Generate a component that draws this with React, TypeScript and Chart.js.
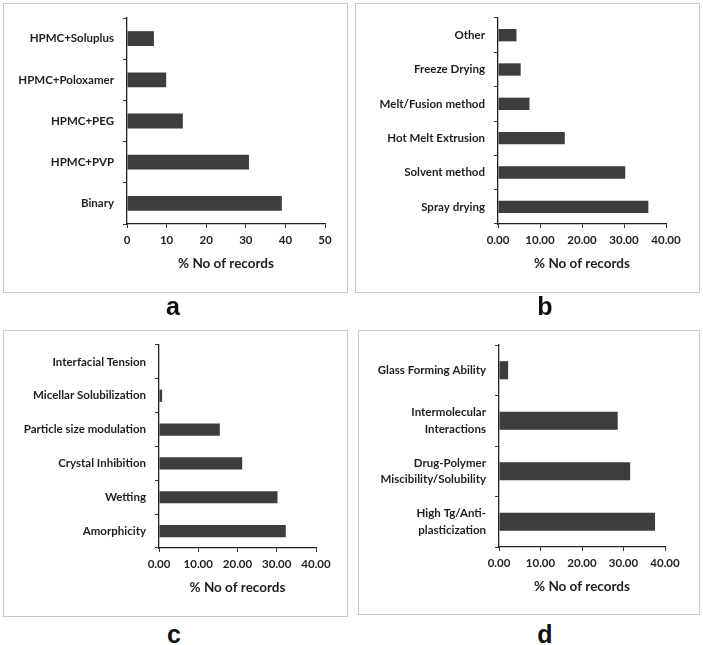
import React, { useEffect, useRef } from "react";
import { Chart, registerables } from "chart.js";

Chart.register(...registerables);

// ---- data (top-to-bottom order as displayed) ----
const catsA = ["HPMC+Soluplus", "HPMC+Poloxamer", "HPMC+PEG", "HPMC+PVP", "Binary"];
const valsA = [6.8, 9.9, 14.1, 30.8, 39.1];

const catsB = ["Other", "Freeze Drying", "Melt/Fusion method", "Hot Melt Extrusion", "Solvent method", "Spray drying"];
const valsB = [4.4, 5.4, 7.5, 15.9, 30.3, 35.8];

const catsC = ["Interfacial Tension", "Micellar Solubilization", "Particle size modulation", "Crystal Inhibition", "Wetting", "Amorphicity"];
const valsC = [0, 0.8, 15.5, 21.2, 30.2, 32.3];

const catsD = [
  ["Glass Forming Ability"],
  ["Intermolecular", "Interactions"],
  ["Drug-Polymer", "Miscibility/Solubility"],
  ["High Tg/Anti-", "plasticization"],
];
const valsD = [2.2, 28.6, 31.6, 37.6];

const axisTitle = "% No of records";
const panelLetters = ["a", "b", "c", "d"];

// ---- layout (page pixels) ----
type Panel = {
  labels: any[];
  values: number[];
  max: number;
  decimals: number;
  box: { x: number; y: number; w: number; h: number };
  area: { left: number; right: number; top: number; bottom: number };
  titleY: number;
  letter: string;
  letterX: number;
  letterY: number;
  labelLineHeight: number;
};

const panels: Panel[] = [
  {
    labels: catsA, values: valsA, max: 50, decimals: 0,
    box: { x: 3, y: 3, w: 345, h: 290 },
    area: { left: 127, right: 325, top: 18, bottom: 224 },
    titleY: 264, letter: panelLetters[0], letterX: 173, letterY: 317, labelLineHeight: 1.2,
  },
  {
    labels: catsB, values: valsB, max: 40, decimals: 2,
    box: { x: 355, y: 3, w: 345, h: 290 },
    area: { left: 498, right: 666, top: 18, bottom: 224 },
    titleY: 264, letter: panelLetters[1], letterX: 545, letterY: 317, labelLineHeight: 1.2,
  },
  {
    labels: catsC, values: valsC, max: 40, decimals: 2,
    box: { x: 3, y: 330, w: 345, h: 287 },
    area: { left: 159, right: 316, top: 345, bottom: 548 },
    titleY: 588, letter: panelLetters[2], letterX: 174, letterY: 645, labelLineHeight: 1.2,
  },
  {
    labels: catsD, values: valsD, max: 40, decimals: 2,
    box: { x: 358, y: 330, w: 342, h: 285 },
    area: { left: 499, right: 665, top: 345, bottom: 547 },
    titleY: 587, letter: panelLetters[3], letterX: 545, letterY: 645, labelLineHeight: 1.42,
  },
];

const FONT = "Lato, 'Open Sans', sans-serif";
const TEXT = "#1e1e1e";
const BAR = "#3d3d3d";
const TITLE_SIZE = 13.5;

function PanelChart({ p }: { p: Panel }) {
  const ref = useRef<HTMLCanvasElement | null>(null);
  useEffect(() => {
    if (!ref.current) return;
    const { box, area } = p;
    const yWidth = area.left - box.x;
    const xHeight = box.y + box.h - area.bottom;
    const titlePadBottom = box.y + box.h - p.titleY - (TITLE_SIZE * 1.2) / 2;
    const chart = new Chart(ref.current, {
      type: "bar",
      data: {
        labels: p.labels,
        datasets: [
          {
            data: p.values,
            backgroundColor: BAR,
            borderWidth: 0,
            categoryPercentage: 1,
            barPercentage: 0.36,
          },
        ],
      },
      options: {
        indexAxis: "y",
        responsive: false,
        animation: false,
        devicePixelRatio: 1,
        layout: {
          padding: {
            left: 0,
            top: area.top - box.y,
            right: box.x + box.w - area.right,
            bottom: 0,
          },
        },
        plugins: { legend: { display: false }, tooltip: { enabled: false } },
        scales: {
          y: {
            afterFit: (s: any) => {
              s.width = yWidth;
              s.paddingTop = 0;
              s.paddingBottom = 0;
            },
            grid: {
              offset: true,
              drawOnChartArea: false,
              tickLength: 4,
              color: "#333",
            },
            border: { color: "#222", width: 1.3 },
            ticks: {
              autoSkip: false,
              color: TEXT,
              padding: 9,
              font: { family: FONT, size: 11.5, weight: "bold", lineHeight: p.labelLineHeight },
            },
          },
          x: {
            min: 0,
            max: p.max,
            afterFit: (s: any) => {
              s.height = xHeight;
            },
            grid: { drawOnChartArea: false, tickLength: 4, color: "#333" },
            border: { color: "#222", width: 1.3 },
            ticks: {
              stepSize: 10,
              color: TEXT,
              padding: 5,
              font: { family: FONT, size: 11.5, weight: "bold" },
              callback: (v: any) => Number(v).toFixed(p.decimals),
            },
            title: {
              display: true,
              text: axisTitle,
              color: TEXT,
              font: { family: FONT, size: TITLE_SIZE, weight: "bold" },
              padding: { top: 0, bottom: titlePadBottom },
            },
          },
        },
      } as any,
    });
    return () => chart.destroy();
  }, [p]);

  const { box } = p;
  return (
    <>
      <div
        style={{
          position: "absolute",
          left: box.x,
          top: box.y,
          width: box.w,
          height: box.h,
          boxSizing: "border-box",
          border: "1px solid #c8c8c8",
        }}
      />
      <canvas
        ref={ref}
        width={box.w}
        height={box.h}
        style={{ position: "absolute", left: box.x, top: box.y, width: box.w, height: box.h }}
      />
      <div
        style={{
          position: "absolute",
          left: p.letterX - 20,
          width: 40,
          top: p.letterY - 22,
          height: 26,
          lineHeight: "22px",
          textAlign: "center",
          fontFamily: "'Liberation Sans', Arial, sans-serif",
          fontWeight: "bold",
          fontSize: 25,
          color: "#111",
        }}
      >
        {p.letter}
      </div>
    </>
  );
}

export default function App() {
  return (
    <div
      style={{
        position: "fixed",
        left: 0,
        top: 0,
        width: 703,
        height: 645,
        background: "#fff",
        overflow: "hidden",
      }}
    >
      {panels.map((p, i) => (
        <PanelChart key={i} p={p} />
      ))}
    </div>
  );
}
